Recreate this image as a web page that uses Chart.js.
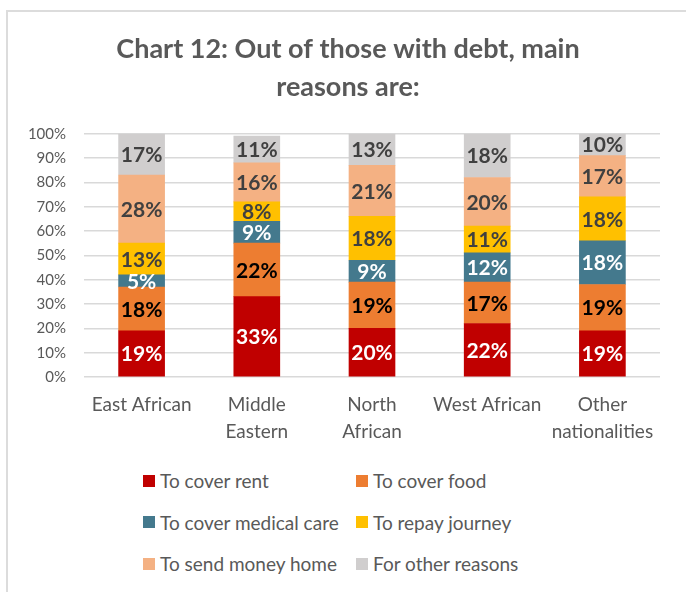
<!DOCTYPE html>
<html>
<head>
<meta charset="utf-8">
<script src="https://cdn.jsdelivr.net/npm/chart.js@4.4.1/dist/chart.umd.min.js"></script>
<style>
  html, body { margin: 0; padding: 0; background: #fff; overflow: hidden; }
  #wrap { position: relative; width: 686px; height: 592px; overflow: hidden; }
  #frame {
    position: absolute; left: 6px; top: 10px; width: 720px; height: 620px;
    border-top: 2px solid #dcdcdc; border-left: 2px solid #dcdcdc;
  }
  #chart { position: absolute; left: 0; top: 0; }
  #legend {
    position: absolute; left: 143px; top: 460px;
    display: grid; grid-template-columns: 213px auto; grid-auto-rows: 41.5px;
    font-family: Lato, sans-serif; font-size: 19px; color: #595959;
  }
  #legend .item { display: flex; align-items: center; white-space: nowrap; }
  #legend .box { width: 12px; height: 12px; margin-right: 5px; flex: none; }
</style>
</head>
<body>
<div id="wrap">
  <div id="frame"></div>
  <canvas id="chart" width="686" height="460"></canvas>
  <div id="legend"></div>
</div>
<script>
// Share of respondents with debt, by main reason for the debt (%)
const categories = ['East African', ['Middle', 'Eastern'], ['North', 'African'], 'West African', ['Other', 'nationalities']];
const rent = [19, 33, 20, 22, 19];
const food = [18, 22, 19, 17, 19];
const medical = [5, 9, 9, 12, 18];
const journey = [13, 8, 18, 11, 18];
const sendHome = [28, 16, 21, 20, 17];
const otherReasons = [17, 11, 13, 18, 10];
const percentTicks = [0, 10, 20, 30, 40, 50, 60, 70, 80, 90, 100];

const series = [
  { label: 'To cover rent', data: rent, color: '#c00000', text: '#ffffff' },
  { label: 'To cover food', data: food, color: '#ed7d31', text: '#000000' },
  { label: 'To cover medical care', data: medical, color: '#44798d', text: '#ffffff' },
  { label: 'To repay journey', data: journey, color: '#ffc000', text: '#404040' },
  { label: 'To send money home', data: sendHome, color: '#f4b183', text: '#404040' },
  { label: 'For other reasons', data: otherReasons, color: '#d0cece', text: '#404040' }
];

const FONT = 'Lato, sans-serif';
const GREY = '#595959';

// Percentage drawn in the middle of every segment
const segmentLabels = {
  id: 'segmentLabels',
  afterDatasetsDraw(chart) {
    const ctx = chart.ctx;
    ctx.save();
    ctx.font = 'bold 21px ' + FONT;
    ctx.textAlign = 'center';
    ctx.textBaseline = 'middle';
    chart.data.datasets.forEach((ds, i) => {
      const meta = chart.getDatasetMeta(i);
      meta.data.forEach((bar, j) => {
        const v = ds.data[j];
        if (!v) return;
        const { x, y, base } = bar.getProps(['x', 'y', 'base'], true);
        const top = Math.max(y, chart.chartArea.top);
        ctx.fillStyle = series[i].text;
        ctx.fillText(v + '%', x, (top + base) / 2 + 1);
      });
    });
    ctx.restore();
  }
};

// Centre the title on the outer frame rather than on the padded layout box
const frameTitle = {
  id: 'frameTitle',
  afterLayout(chart) {
    const t = chart.titleBlock;
    if (!t) return;
    t.left = 10;
    t.right = chart.width;
  }
};

const chart = new Chart(document.getElementById('chart'), {
  type: 'bar',
  data: {
    labels: categories,
    datasets: series.map(s => ({
      label: s.label,
      data: s.data,
      backgroundColor: s.color,
      borderWidth: 0,
      barThickness: 46
    }))
  },
  options: {
    responsive: false,
    animation: false,
    devicePixelRatio: 1,
    layout: { padding: { left: 0, right: 26, top: 0, bottom: 0 } },
    plugins: {
      legend: { display: false },
      tooltip: { enabled: false },
      title: {
        display: true,
        text: ['Chart 12: Out of those with debt, main', 'reasons are:'],
        color: GREY,
        font: { family: FONT, size: 27, weight: 'bold', lineHeight: 1.42 },
        padding: { top: 30, bottom: 27 }
      }
    },
    scales: {
      x: {
        stacked: true,
        grid: { display: false },
        border: { display: false },
        ticks: {
          color: GREY,
          padding: 7,
          maxRotation: 0,
          autoSkip: false,
          font: { family: FONT, size: 19, lineHeight: 1.4 }
        },
        afterFit(scale) { scale.height = 83; }
      },
      y: {
        stacked: true,
        min: 0,
        max: 100,
        afterBuildTicks(scale) { scale.ticks = percentTicks.map(v => ({ value: v })); },
        grid: { color: '#d9d9d9', lineWidth: 1.5, drawTicks: false },
        border: { display: false },
        ticks: {
          color: GREY,
          padding: 18,
          font: { family: FONT, size: 15 },
          callback: v => v + '%'
        },
        afterFit(scale) { scale.width = 84; }
      }
    }
  },
  plugins: [segmentLabels, frameTitle]
});

// Legend in two columns below the plot
const legend = document.getElementById('legend');
chart.data.datasets.forEach(ds => {
  const item = document.createElement('div');
  item.className = 'item';
  const box = document.createElement('span');
  box.className = 'box';
  box.style.background = ds.backgroundColor;
  const text = document.createElement('span');
  text.textContent = ds.label;
  item.appendChild(box);
  item.appendChild(text);
  legend.appendChild(item);
});
</script>
</body>
</html>
